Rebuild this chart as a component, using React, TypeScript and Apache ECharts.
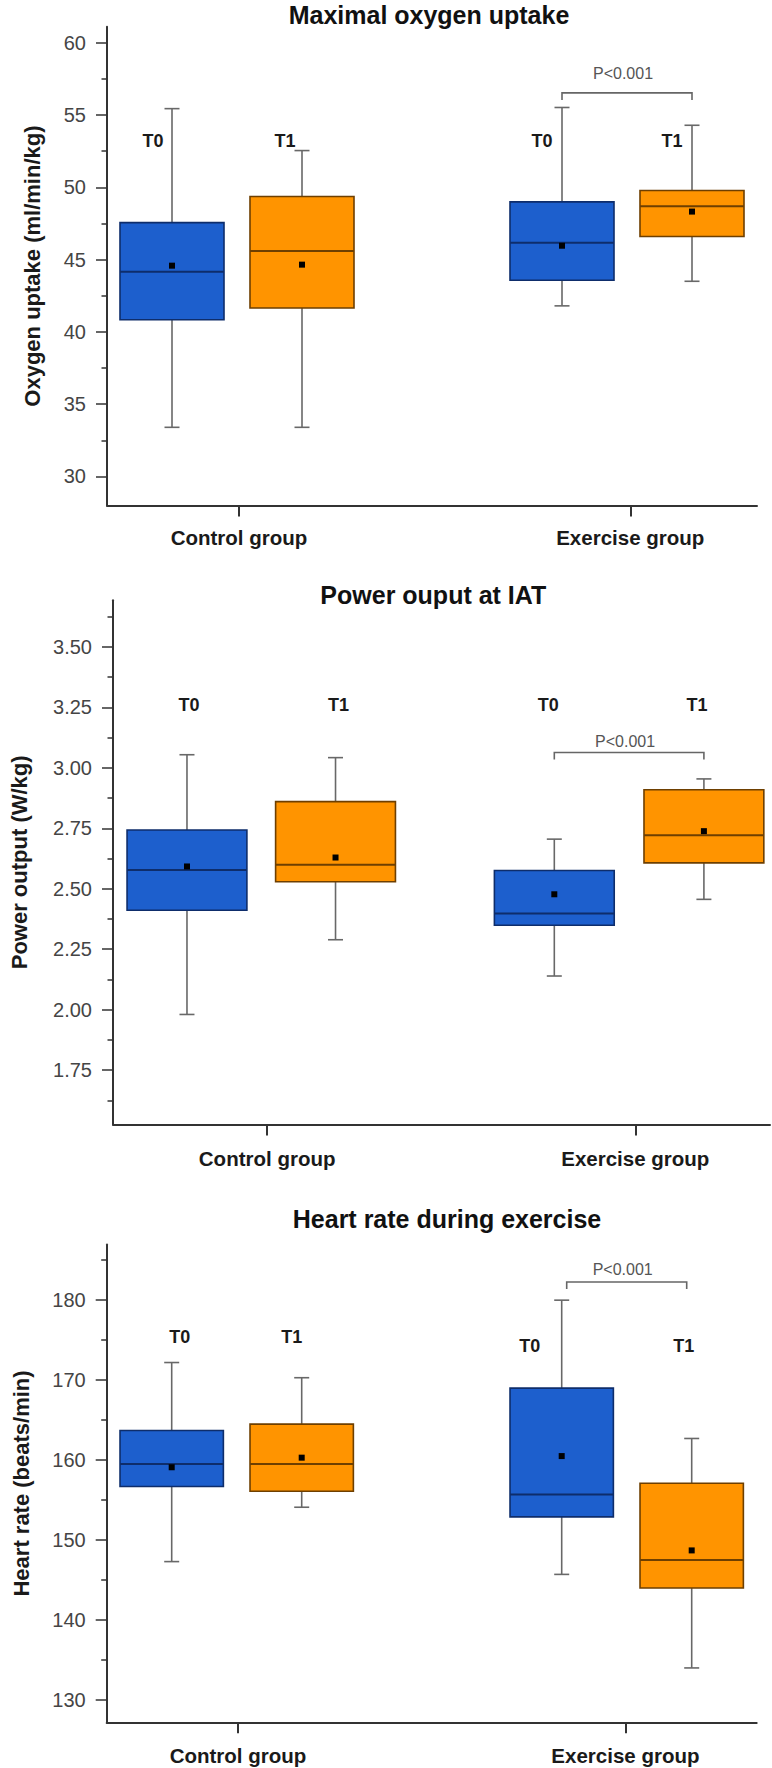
import React, { useEffect, useRef } from 'react';
import * as echarts from 'echarts';

// ---------- data ----------
const groupNames = ['Control group', 'Exercise group'];
const timeLabels = ['T0', 'T1', 'T0', 'T1'];
const pValueText = 'P<0.001';
const titles = ['Maximal oxygen uptake', 'Power ouput at IAT', 'Heart rate during exercise'];
const yNames = ['Oxygen uptake (ml/min/kg)', 'Power output (W/kg)', 'Heart rate (beats/min)'];

// order: Control T0, Control T1, Exercise T0, Exercise T1
const vo2Min = [33.4, 33.4, 41.8, 43.5];
const vo2Q1 = [40.84, 41.65, 43.57, 46.6];
const vo2Median = [44.16, 45.59, 46.16, 48.69];
const vo2Q3 = [47.56, 49.36, 48.99, 49.78];
const vo2Max = [55.44, 52.54, 55.52, 54.29];
const vo2Mean = [44.58, 44.65, 45.96, 48.32];

const powMin = [1.98, 2.289, 2.139, 2.456];
const powQ1 = [2.411, 2.529, 2.349, 2.607];
const powMedian = [2.577, 2.599, 2.397, 2.721];
const powQ3 = [2.743, 2.86, 2.575, 2.909];
const powMax = [3.054, 3.042, 2.705, 2.954];
const powMean = [2.592, 2.629, 2.477, 2.738];

const hrMin = [147.3, 154.1, 145.7, 134.0];
const hrQ1 = [156.7, 156.1, 152.9, 144.0];
const hrMedian = [159.5, 159.5, 155.7, 147.5];
const hrQ3 = [163.7, 164.5, 169.0, 157.1];
const hrMax = [172.2, 170.3, 180.0, 162.7];
const hrMean = [159.1, 160.3, 160.5, 148.7];

const vo2Ticks = [30, 35, 40, 45, 50, 55, 60];
const vo2Minor = [32.5, 37.5, 42.5, 47.5, 52.5, 57.5];
const powTicks = [1.75, 2.0, 2.25, 2.5, 2.75, 3.0, 3.25, 3.5];
const powMinor = [1.625, 1.875, 2.125, 2.375, 2.625, 2.875, 3.125, 3.375, 3.625];
const hrTicks = [130, 140, 150, 160, 170, 180];
const hrMinor = [135, 145, 155, 165, 175, 185];

// annotation anchors (value space)
const vo2LabelY = [53.2, 53.2, 53.2, 53.2];
const powLabelY = [3.26, 3.26, 3.26, 3.26];
const hrLabelY = [175.4, 175.4, 174.3, 174.3];
const vo2Bracket = { y: 56.53, textY: 57.87 };
const powBracket = { y: 3.063, textY: 3.108 };
const hrBracket = { y: 182.28, textY: 183.85 };

// ---------- layout / style ----------
const FONT = "'Liberation Sans', Arial, Helvetica, sans-serif";
const FILL = ['#1d5fcd', '#ff9400'];
const EDGE = ['#0e2d6b', '#6e3f00'];
const WHISKER = '#686868';
const AXIS = '#333333';

const layouts = [
  { grid: { left: 107, top: 26.8, width: 650, height: 478.6 }, yMin: 28, yMax: 61.1, xPos: [0.1, 0.3, 0.7, 0.9], boxW: 0.16, groupTicks: [0.203, 0.805], title: { x: 429, y: 14.6 }, nameGap: 64, labelMargin: 22, tDx: [-19, -17, -20, -20], bracketInset: 0, decimals: 0 },
  { grid: { left: 106.7, top: 600.2, width: 663.3, height: 524.3 }, yMin: 1.525, yMax: 3.693, xPos: [0.1126, 0.3387, 0.6717, 0.8994], boxW: 0.1824, groupTicks: [0.2346, 0.795], title: { x: 433.3, y: 595.2 }, nameGap: 83, labelMargin: 23, tDx: [2, 3, -6, -7], bracketInset: 0, decimals: 2 },
  { grid: { left: 106.7, top: 1244.6, width: 650, height: 477.7 }, yMin: 127.2, yMax: 186.95, xPos: [0.1, 0.3, 0.7, 0.9], boxW: 0.159, groupTicks: [0.202, 0.798], title: { x: 447, y: 1219 }, nameGap: 74, labelMargin: 23, tDx: [8, -10, -32, -8], bracketInset: 5, decimals: 0 },
];

const panelData = [
  { min: vo2Min, q1: vo2Q1, med: vo2Median, q3: vo2Q3, max: vo2Max, mean: vo2Mean, ticks: vo2Ticks, minor: vo2Minor, labelY: vo2LabelY, bracket: vo2Bracket },
  { min: powMin, q1: powQ1, med: powMedian, q3: powQ3, max: powMax, mean: powMean, ticks: powTicks, minor: powMinor, labelY: powLabelY, bracket: powBracket },
  { min: hrMin, q1: hrQ1, med: hrMedian, q3: hrQ3, max: hrMax, mean: hrMean, ticks: hrTicks, minor: hrMinor, labelY: hrLabelY, bracket: hrBracket },
];

function buildOption() {
  const grid: any[] = [];
  const xAxis: any[] = [];
  const yAxis: any[] = [];
  const series: any[] = [];
  const graphic: any[] = [];

  panelData.forEach((pd, i) => {
    const L = layouts[i];
    grid.push({ ...L.grid, containLabel: false });
    xAxis.push({
      type: 'value', gridIndex: i, min: 0, max: 1,
      axisLine: { show: true, lineStyle: { color: AXIS, width: 2 } },
      axisTick: { show: true, length: 11, customValues: L.groupTicks, lineStyle: { color: AXIS, width: 2 } },
      axisLabel: {
        show: true, customValues: L.groupTicks, margin: L.labelMargin,
        formatter: (v: number) => (v < 0.5 ? groupNames[0] : groupNames[1]),
        fontFamily: FONT, fontSize: 20.5, fontWeight: 'bold', color: '#1a1a1a',
      },
      splitLine: { show: false },
    });
    yAxis.push({
      type: 'value', gridIndex: i, min: L.yMin, max: L.yMax, position: 'left',
      name: yNames[i], nameLocation: 'middle', nameGap: L.nameGap, nameRotate: 90,
      nameTextStyle: { fontFamily: FONT, fontSize: 22, fontWeight: 'bold', color: '#1a1a1a' },
      axisLine: { show: true, lineStyle: { color: AXIS, width: 2 } },
      axisTick: { show: true, length: 11, customValues: pd.ticks, lineStyle: { color: AXIS, width: 1.5 } },
      axisLabel: {
        show: true, customValues: pd.ticks, margin: 21,
        formatter: (v: number) => v.toFixed(L.decimals),
        fontFamily: FONT, fontSize: 20, color: '#454545',
      },
      splitLine: { show: false },
    });
    yAxis.push({
      type: 'value', gridIndex: i, min: L.yMin, max: L.yMax, position: 'left', offset: 0,
      axisLine: { show: false },
      axisTick: { show: true, length: 5.5, customValues: pd.minor, lineStyle: { color: AXIS, width: 1.5 } },
      axisLabel: { show: false },
      splitLine: { show: false },
    });

    const data = pd.min.map((_, k) => [L.xPos[k], pd.min[k], pd.q1[k], pd.med[k], pd.q3[k], pd.max[k], pd.mean[k], pd.labelY[k]]);

    series.push({
      type: 'custom', xAxisIndex: i, yAxisIndex: i * 2, clip: false,
      encode: { x: 0, y: [1, 2, 3, 4, 5] },
      data,
      renderItem: (params: any, api: any) => {
        const k = params.dataIndex;
        const c = k % 2;
        const x = api.value(0);
        const cx = api.coord([x, api.value(1)])[0];
        const yMinP = api.coord([x, api.value(1)])[1];
        const yQ1 = api.coord([x, api.value(2)])[1];
        const yMed = api.coord([x, api.value(3)])[1];
        const yQ3 = api.coord([x, api.value(4)])[1];
        const yMaxP = api.coord([x, api.value(5)])[1];
        const yMean = api.coord([x, api.value(6)])[1];
        const yLab = api.coord([x, api.value(7)])[1];
        const w = api.size([L.boxW, 0])[0];
        const cap = 7.5;
        const ws = { stroke: WHISKER, lineWidth: 1.6 };
        return {
          type: 'group',
          children: [
            { type: 'line', shape: { x1: cx, y1: yMaxP, x2: cx, y2: yQ3 }, style: ws },
            { type: 'line', shape: { x1: cx, y1: yQ1, x2: cx, y2: yMinP }, style: ws },
            { type: 'line', shape: { x1: cx - cap, y1: yMaxP, x2: cx + cap, y2: yMaxP }, style: ws },
            { type: 'line', shape: { x1: cx - cap, y1: yMinP, x2: cx + cap, y2: yMinP }, style: ws },
            { type: 'rect', shape: { x: cx - w / 2, y: yQ3, width: w, height: yQ1 - yQ3 }, style: { fill: FILL[c], stroke: EDGE[c], lineWidth: 1.6 } },
            { type: 'line', shape: { x1: cx - w / 2, y1: yMed, x2: cx + w / 2, y2: yMed }, style: { stroke: EDGE[c], lineWidth: 2 } },
            { type: 'rect', shape: { x: cx - 3, y: yMean - 3, width: 6, height: 6 }, style: { fill: '#000' } },
            {
              type: 'text', x: cx + L.tDx[k], y: yLab,
              style: { text: timeLabels[k], fill: '#1a1a1a', font: `bold 18px ${FONT}`, align: 'center', verticalAlign: 'middle', textAlign: 'center', textVerticalAlign: 'middle' },
            },
          ],
        };
      },
      z: 3,
    });

    series.push({
      type: 'custom', xAxisIndex: i, yAxisIndex: i * 2, clip: false,
      encode: { x: [0, 1], y: [2, 3] },
      data: [[L.xPos[2], L.xPos[3], pd.bracket.y, pd.bracket.textY]],
      renderItem: (params: any, api: any) => {
        const p1 = api.coord([api.value(0), api.value(2)]);
        const p2 = api.coord([api.value(1), api.value(2)]);
        const pt = api.coord([(api.value(0) + api.value(1)) / 2, api.value(3)]);
        const x1 = p1[0] + L.bracketInset;
        const x2 = p2[0] - L.bracketInset;
        const y = p1[1];
        return {
          type: 'group',
          children: [
            { type: 'polyline', shape: { points: [[x1, y + 7], [x1, y], [x2, y], [x2, y + 7]] }, style: { stroke: '#666', lineWidth: 1.6, fill: 'none' } },
            {
              type: 'text', x: pt[0] - 4, y: pt[1],
              style: { text: pValueText, fill: '#555', font: `16px ${FONT}`, align: 'center', verticalAlign: 'middle', textAlign: 'center', textVerticalAlign: 'middle' },
            },
          ],
        };
      },
      z: 4,
    });

    graphic.push({
      type: 'text', x: L.title.x, y: L.title.y,
      style: { text: titles[i], fill: '#111', font: `bold 25px ${FONT}`, align: 'center', verticalAlign: 'middle', textAlign: 'center', textVerticalAlign: 'middle' },
    });
  });

  return { animation: false, backgroundColor: '#ffffff', grid, xAxis, yAxis, series, graphic };
}

export default function App() {
  const ref = useRef<HTMLDivElement>(null);
  useEffect(() => {
    const chart = echarts.init(ref.current!, null, { renderer: 'svg' });
    chart.setOption(buildOption() as any);
    return () => chart.dispose();
  }, []);
  return <div ref={ref} style={{ position: 'absolute', left: 0, top: 0, width: 772, height: 1768, background: '#fff' }} />;
}
